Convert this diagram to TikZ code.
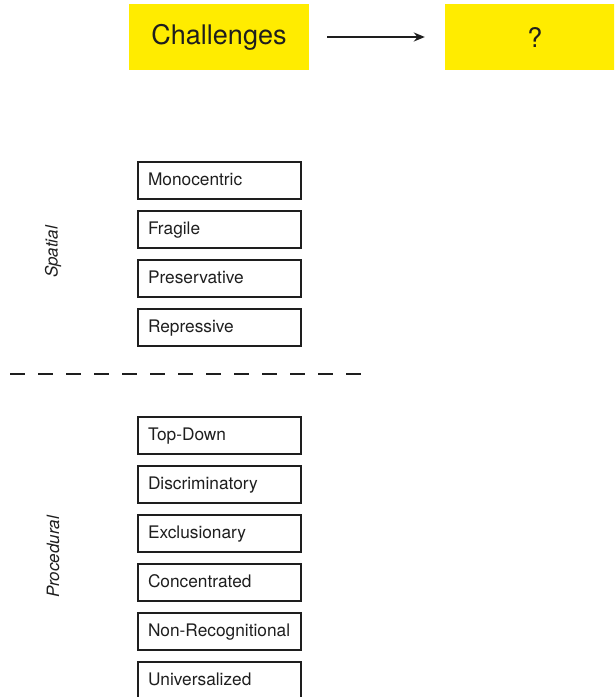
\documentclass[tikz,border=0pt]{standalone}
\usepackage{fontspec}
\setmainfont{TeX Gyre Heros}
\usepackage{xcolor}
\usetikzlibrary{arrows.meta, positioning}
\definecolor{hlyellow}{RGB}{255,236,0}
\definecolor{inkgray}{RGB}{30,30,30}

\begin{document}
\begin{tikzpicture}[
    x=1pt, y=-1pt,
    hl/.style={fill=hlyellow,minimum width=180pt,minimum height=66pt,
      inner sep=0pt,font=\fontsize{27}{30}\selectfont,text=inkgray},
    tag/.style={draw=inkgray,line width=1.3pt,minimum width=163pt,minimum height=37pt,
      inner xsep=10pt,inner ysep=0pt,text width=143pt,align=left,
      text height=12pt,text depth=3pt,
      font=\fontsize{17.3}{20}\selectfont,text=inkgray},
    side/.style={rotate=90,font=\fontsize{17}{20}\selectfont\itshape,text=inkgray},
    arrow/.style={-{Stealth[length=11pt,width=9pt]},line width=1.8pt,inkgray},
    sep/.style={line width=1.2pt,inkgray,dash pattern=on 15pt off 13pt}
  ]
  \clip (0,0) rectangle (614,697);
  \useasboundingbox (0,0) rectangle (614,697);

  % Header
  \node[hl] (chal) at (219,37) {Challenges};
  \node[hl] (next) at (535,37) {?};
  \draw[arrow,shorten <=18pt,shorten >=20pt] (chal) -- (next);

  % Spatial
  \node[side] (spatial) at (53,252) {Spatial};
  \node[tag] (mono) at (219.5,180.5) {Monocentric};
  \node[tag] (frag) at (219.5,229.5) {Fragile};
  \node[tag] (pres) at (219.5,278.5) {Preservative};
  \node[tag] (repr) at (219.5,327.5) {Repressive};

  % Divider
  \coordinate (sepL) at (10,374);
  \coordinate (sepR) at (366,374);
  \draw[sep] (sepL) -- (sepR);

  % Procedural
  \node[side] (proc) at (53,557) {Procedural};
  \node[tag] (topd) at (219.5,435.5) {Top-Down};
  \node[tag] (disc) at (219.5,484.5) {Discriminatory};
  \node[tag] (excl) at (219.5,533.5) {Exclusionary};
  \node[tag] (conc) at (219.5,582.5) {Concentrated};
  \node[tag] (nonr) at (219.5,631.5) {Non-Recognitional};
  \node[tag] (univ) at (219.5,680.5) {Universalized};
\end{tikzpicture}
\end{document}
